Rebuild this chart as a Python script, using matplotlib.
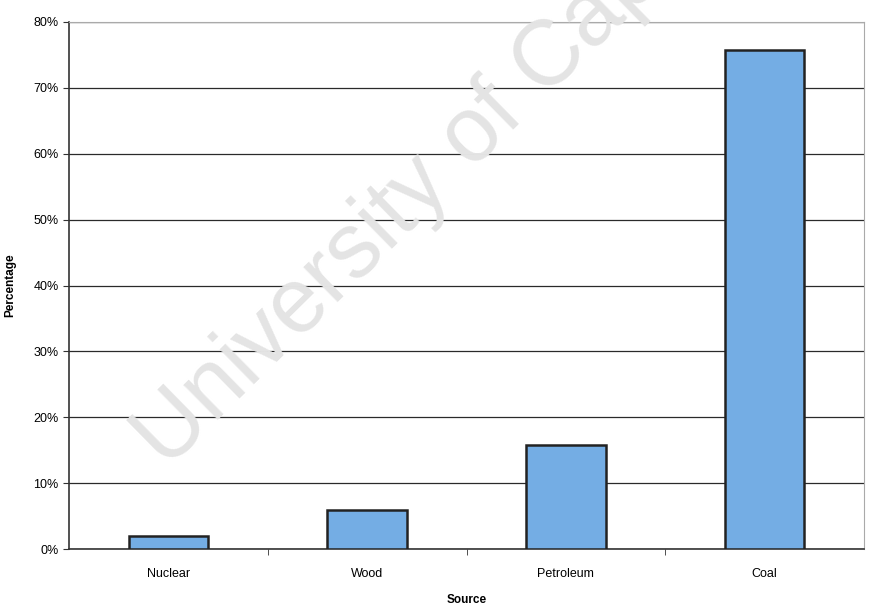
import matplotlib
matplotlib.use("Agg")
import matplotlib.pyplot as plt
from matplotlib.ticker import FuncFormatter

categories = ["Nuclear", "Wood", "Petroleum", "Coal"]
values = [2.0, 5.9, 15.8, 75.7]
yticks = [0, 10, 20, 30, 40, 50, 60, 70, 80]

plt.rcParams['font.family'] = ['Liberation Sans', 'DejaVu Sans']

fig = plt.figure(figsize=(8.69, 6.07), dpi=100)
ax = fig.add_axes([69/869, 1-549/607, (864-69)/869, (549-22)/607])

ax.set_ylim(0, 80)
ax.set_xlim(-0.5, len(categories) - 0.5)
ax.set_yticks(yticks)
ax.yaxis.set_major_formatter(FuncFormatter(lambda v, p: f"{int(v)}%"))
ax.grid(axis='y', color='#2a2a2a', linewidth=0.9, zorder=1)
ax.set_axisbelow(True)

ax.bar(range(len(categories)), values, width=0.4, color='#74ADE4',
       edgecolor='#222222', linewidth=1.8, zorder=3)

ax.set_xticks(range(len(categories)))
ax.set_xticklabels(categories, fontsize=9)
ax.set_xticks([0.5, 1.5, 2.5], minor=True)
ax.tick_params(axis='x', which='major', length=0, pad=14)
ax.tick_params(axis='x', which='minor', length=4, direction='out', color='#333333')
ax.tick_params(axis='y', length=4, direction='out', labelsize=9, color='#333333')

for s in ['left', 'bottom']:
    ax.spines[s].set_color('#333333')
    ax.spines[s].set_linewidth(1.2)
for s in ['top', 'right']:
    ax.spines[s].set_color('#aaaaaa')
    ax.spines[s].set_linewidth(0.8)

ax.set_ylabel("Percentage", fontsize=8.5, fontweight='bold', labelpad=12)
ax.set_xlabel("Source", fontsize=8.5, fontweight='bold', labelpad=10)

fig.text(0.192, 0.225, "University of Cape Town", fontsize=66, color='#e4e4e4',
         rotation=44.5, rotation_mode='anchor', ha='left', va='baseline',
         zorder=0.5)

fig.savefig("out.png", dpi=100)
